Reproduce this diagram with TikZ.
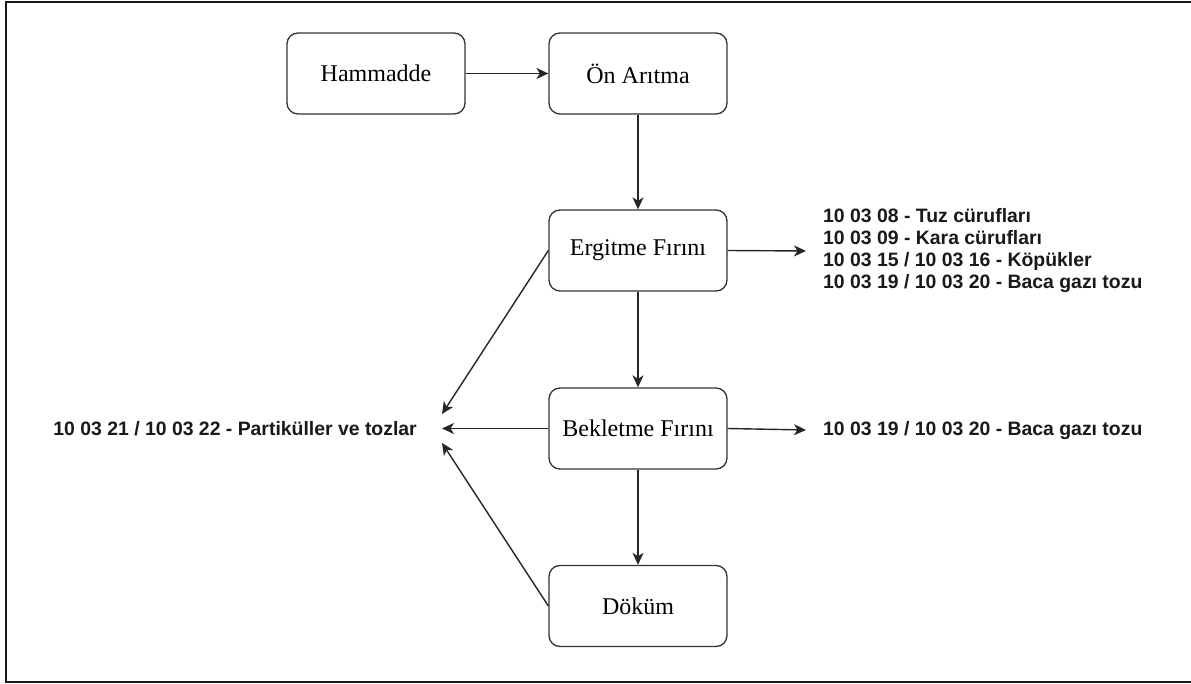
\documentclass[tikz,border=0pt]{standalone}
\usepackage{fontspec}
\setmainfont{Liberation Serif}
\newfontfamily\labelfont{Liberation Sans}
\usetikzlibrary{arrows.meta}
\tikzset{
  procbox/.style={draw=black!80, line width=1.3pt, rounded corners=11pt, fill=white,
    minimum width=178pt, minimum height=81pt, inner sep=0pt,
    font=\fontsize{24}{28}\selectfont},
  conn/.style={draw=black!85, line width=1.4pt, -{Stealth[length=12pt,width=11pt,inset=3.5pt]}},
  wastelabel/.style={font=\labelfont\bfseries\fontsize{19.4}{21.8}\selectfont, inner sep=0pt, align=left, text=black!90}
}
\begin{document}
\begin{tikzpicture}[x=1pt,y=-1pt]
\clip (0,0) rectangle (1191,684);
\fill[white] (0,0) rectangle (1191,684);
\draw[line width=1.8pt, black!90] (6,2) rectangle (1200,682);

\node[procbox] (ham) at (376,73.5) {Hammadde};
\node[procbox] (on) at (638,73.5) {Ön Arıtma};
\node[procbox] (erg) at (638,250.5) {Ergitme Fırını};
\node[procbox] (bek) at (638,428.5) {Bekletme Fırını};
\node[procbox] (dok) at (638,606) {Döküm};

\node[wastelabel, anchor=west] (w1) at (823,250.5) {10 03 08 - Tuz cürufları\\10 03 09 - Kara cürufları\\10 03 15 / 10 03 16 - Köpükler\\10 03 19 / 10 03 20 - Baca gazı tozu};
\node[wastelabel, anchor=west] (w2) at (823,431) {10 03 19 / 10 03 20 - Baca gazı tozu};
\node[wastelabel, anchor=east] (w3) at (417,429) {10 03 21 / 10 03 22 - Partiküller ve tozlar};

\coordinate (e1) at (806,251);
\coordinate (e2) at (806,430);
\coordinate (l1) at (442,414);
\coordinate (l2) at (442,428.5);
\coordinate (l3) at (442,443);

\draw[conn] (ham) -- (on);
\draw[conn] (on) -- (erg);
\draw[conn] (erg) -- (bek);
\draw[conn] (bek) -- (dok);
\draw[conn] (erg.east) -- (e1);
\draw[conn] (bek.east) -- (e2);
\draw[conn] (erg.west) -- (l1);
\draw[conn] (bek.west) -- (l2);
\draw[conn] (dok.west) -- (l3);
\end{tikzpicture}
\end{document}
